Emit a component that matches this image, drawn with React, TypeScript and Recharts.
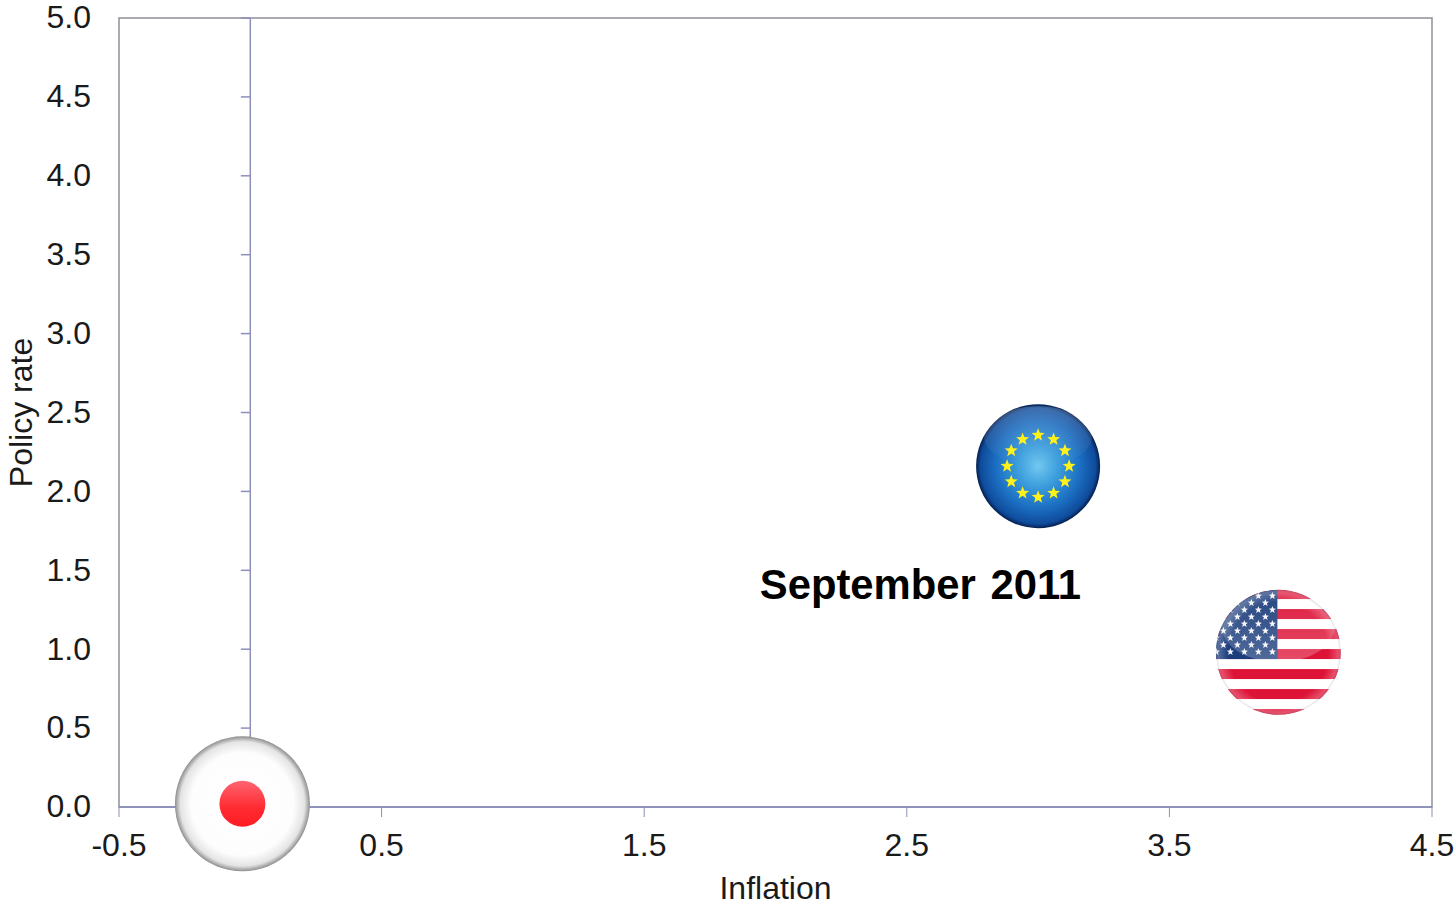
import React from "react";
import {
  ComposedChart,
  Scatter,
  XAxis,
  YAxis,
  ReferenceLine,
  ReferenceArea,
  ReferenceDot,
  Label,
} from "recharts";

// Inflation and policy rate by economy, September 2011
const euPoint = [{ inflation: 3.0, policyRate: 2.16 }];
const usPoint = [{ inflation: 3.915, policyRate: 0.98 }];
const japanPoint = [{ inflation: -0.03, policyRate: 0.02 }];

const xTicks = [-0.5, 0.5, 1.5, 2.5, 3.5, 4.5];
const yTicks = [0, 0.5, 1, 1.5, 2, 2.5, 3, 3.5, 4, 4.5, 5];
const annotation = { inflation: 2.552, policyRate: 1.41, text: "September 2011" };

const AXIS_COLOR = "#8b8fbc";
const FRAME_COLOR = "#8e8e9a";
const FONT = "'Liberation Sans', Arial, sans-serif";

function starPath(cx: number, cy: number, r: number) {
  const pts: string[] = [];
  for (let i = 0; i < 10; i++) {
    const rad = i % 2 === 0 ? r : r * 0.42;
    const a = -Math.PI / 2 + (i * Math.PI) / 5;
    pts.push(`${(cx + rad * Math.cos(a)).toFixed(2)},${(cy + rad * Math.sin(a)).toFixed(2)}`);
  }
  return `M${pts.join("L")}Z`;
}

// Glossy round EU flag badge
function EuBadge({ cx, cy }: any) {
  const r = 62;
  const stars = Array.from({ length: 12 }, (_, i) => {
    const a = (i * Math.PI) / 6 - Math.PI / 2;
    return starPath(cx + 31 * Math.cos(a), cy + 31 * Math.sin(a), 6.8);
  });
  return (
    <g>
      <defs>
        <radialGradient id="euBase" cx="50%" cy="50%" r="50%">
          <stop offset="0%" stopColor="#72c8f0" />
          <stop offset="32%" stopColor="#3d9fdd" />
          <stop offset="70%" stopColor="#1a6cc0" />
          <stop offset="93%" stopColor="#0f4b9b" />
          <stop offset="100%" stopColor="#051f4e" />
        </radialGradient>
        <linearGradient id="euGloss" x1="0" y1="0" x2="0" y2="1">
          <stop offset="0%" stopColor="#ffffff" stopOpacity={0.2} />
          <stop offset="100%" stopColor="#ffffff" stopOpacity={0} />
        </linearGradient>
      </defs>
      <circle cx={cx} cy={cy} r={r} fill="url(#euBase)" />
      <ellipse cx={cx} cy={cy - 30} rx={r - 8} ry={30} fill="url(#euGloss)" />
      {stars.map((d, i) => (
        <path key={i} d={d} fill="#fff21a" />
      ))}
    </g>
  );
}

// Glossy round US flag badge
function UsBadge({ cx, cy }: any) {
  const r = 62.5;
  const stripeH = 10;
  const top = cy - 63.3;
  const stripes = Array.from({ length: 13 }, (_, i) => i);
  const stars: string[] = [];
  for (let row = 0; row < 9; row++) {
    const count = row % 2 === 0 ? 5 : 4;
    for (let col = 0; col < count; col++) {
      const sx = cx - 6 - (row % 2 === 0 ? 0 : 7) - col * 14;
      stars.push(starPath(sx, cy - 56.5 + row * 7, 3.8));
    }
  }
  return (
    <g>
      <defs>
        <clipPath id="usClip">
          <circle cx={cx} cy={cy} r={r} />
        </clipPath>
        <radialGradient id="usRim" cx="50%" cy="50%" r="50%">
          <stop offset="80%" stopColor="#ffffff" stopOpacity={0} />
          <stop offset="96%" stopColor="#ffffff" stopOpacity={0.25} />
          <stop offset="100%" stopColor="#9a9aa6" stopOpacity={0.35} />
        </radialGradient>
        <linearGradient id="usGloss" x1="0" y1="0" x2="0" y2="1">
          <stop offset="0%" stopColor="#ffffff" stopOpacity={0.04} />
          <stop offset="100%" stopColor="#ffffff" stopOpacity={0.24} />
        </linearGradient>
      </defs>
      <g clipPath="url(#usClip)">
        <rect x={cx - r} y={cy - r} width={2 * r} height={2 * r} fill="#ffffff" />
        {stripes
          .filter((i) => i % 2 === 0)
          .map((i) => (
            <rect key={i} x={cx - r} y={top + i * stripeH} width={2 * r} height={stripeH} fill="#dd1438" />
          ))}
        <rect x={cx - r} y={cy - r} width={r - 1} height={r + 6.7} fill="#1c3d7c" />
        {stars.map((d, i) => (
          <path key={i} d={d} fill="#f5f6fb" />
        ))}
        <ellipse cx={cx} cy={cy - 26} rx={r - 6} ry={36} fill="url(#usGloss)" />
        <circle cx={cx} cy={cy} r={r} fill="url(#usRim)" />
      </g>
    </g>
  );
}

// White badge with the red disc of the Japanese flag
function JapanBadge({ cx, cy }: any) {
  return (
    <g>
      <defs>
        <radialGradient id="jpBase" cx="50%" cy="50%" r="50%">
          <stop offset="0%" stopColor="#ffffff" />
          <stop offset="76%" stopColor="#fdfdfd" />
          <stop offset="92%" stopColor="#e4e4e4" />
          <stop offset="100%" stopColor="#8e8e8e" />
        </radialGradient>
        <linearGradient id="jpDisc" x1="0" y1="0" x2="0" y2="1">
          <stop offset="0%" stopColor="#ff6470" />
          <stop offset="60%" stopColor="#ff2a30" />
          <stop offset="100%" stopColor="#ff1c24" />
        </linearGradient>
      </defs>
      <circle cx={cx} cy={cy} r={67.5} fill="url(#jpBase)" />
      <circle cx={cx} cy={cy} r={23} fill="url(#jpDisc)" />
    </g>
  );
}

function Annotation({ cx, cy }: any) {
  return (
    <text
      x={cx}
      y={cy}
      dy={14}
      textAnchor="middle"
      fontFamily={FONT}
      fontWeight={700}
      fontSize={41.8}
      fill="#000"
      wordSpacing={3}
    >
      {annotation.text}
    </text>
  );
}

export default function App() {
  const tickStyle = { fontFamily: FONT, fontSize: 32, fill: "#1a1a1a" };
  const titleStyle = { fontFamily: FONT, fontSize: 32, fill: "#1a1a1a" };
  return (
    <div style={{ position: "absolute", left: 0, top: 0, width: 1456, height: 901, background: "#fff", overflow: "hidden" }}>
      <ComposedChart width={1456} height={901} margin={{ top: 18, right: 24, bottom: 0, left: 0 }}>
        <XAxis
          type="number"
          dataKey="inflation"
          domain={[-0.5, 4.5]}
          ticks={xTicks}
          tickFormatter={(v: number) => v.toFixed(1)}
          height={94}
          stroke={AXIS_COLOR}
          tick={tickStyle}
          tickSize={10}
          tickMargin={16}
          interval={0}
        >
          <Label value="Inflation" position="insideBottom" offset={2} style={titleStyle} />
        </XAxis>
        <YAxis
          type="number"
          dataKey="policyRate"
          domain={[0, 5]}
          ticks={yTicks}
          tickFormatter={(v: number) => v.toFixed(1)}
          width={119}
          axisLine={false}
          tickLine={false}
          tickSize={0}
          tickMargin={28}
          tick={{ ...tickStyle, dy: -1 }}
          interval={0}
        >
          <Label value="Policy rate" angle={-90} position="insideLeft" offset={21} style={{ ...titleStyle, textAnchor: "middle" }} />
        </YAxis>
        <ReferenceArea x1={-0.5} x2={4.5} y1={0} y2={5} fill="none" stroke={FRAME_COLOR} strokeWidth={1.5} />
        <ReferenceLine x={0} stroke={AXIS_COLOR} strokeWidth={1.5} />
        {yTicks
          .filter((v) => v > 0)
          .map((v) => (
            <ReferenceLine
              key={v}
              segment={[
                { x: -0.036, y: v },
                { x: 0, y: v },
              ]}
              stroke={AXIS_COLOR}
              strokeWidth={1.5}
            />
          ))}
        <ReferenceLine y={0} stroke={AXIS_COLOR} strokeWidth={1.5} />
        <Scatter name="Euro area" data={euPoint} dataKey="policyRate" shape={EuBadge} isAnimationActive={false} />
        <Scatter name="United States" data={usPoint} dataKey="policyRate" shape={UsBadge} isAnimationActive={false} />
        <Scatter name="Japan" data={japanPoint} dataKey="policyRate" shape={JapanBadge} isAnimationActive={false} />
        <ReferenceDot x={annotation.inflation} y={annotation.policyRate} shape={Annotation} />
      </ComposedChart>
    </div>
  );
}
